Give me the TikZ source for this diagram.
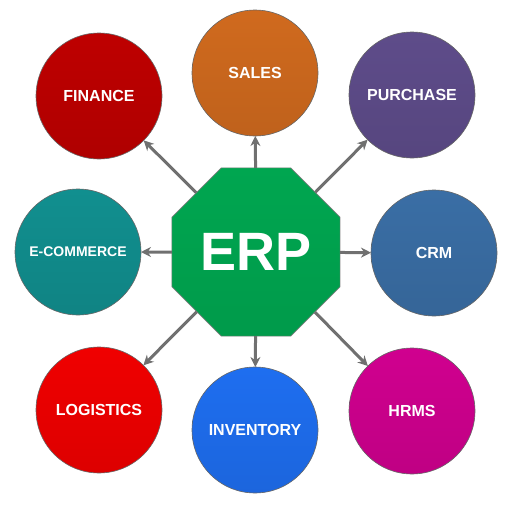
\documentclass[tikz,border=0pt]{standalone}
\usepackage{fontspec}
\setsansfont{Liberation Sans}
\usetikzlibrary{shapes.geometric, arrows.meta}
\definecolor{erpgreen}{RGB}{0,166,80}
\definecolor{finance}{RGB}{190,0,0}
\definecolor{sales}{RGB}{208,106,30}
\definecolor{purchase}{RGB}{94,76,138}
\definecolor{crm}{RGB}{58,110,165}
\definecolor{ecommerce}{RGB}{17,143,143}
\definecolor{logistics}{RGB}{240,0,0}
\definecolor{inventory}{RGB}{30,110,240}
\definecolor{hrms}{RGB}{208,0,143}
\definecolor{linkgray}{RGB}{112,112,112}
\tikzset{
    module/.style={circle, draw=black!60, line width=0.6pt, minimum size=126pt, inner sep=0pt, outer sep=0pt,
        top color=#1, bottom color=#1!92!black, text=white,
        font=\sffamily\bfseries\fontsize{16}{18}\selectfont},
    hub/.style={regular polygon, regular polygon sides=8, minimum size=182pt, inner sep=0pt, outer sep=0pt,
        draw=black!50, line width=0.6pt, top color=erpgreen, bottom color=erpgreen!93!black,
        text=white, font=\sffamily\bfseries\fontsize{54}{60}\selectfont},
    link/.style={draw=linkgray, line width=3pt, -{Stealth[length=10pt, width=10pt]}}
}

\begin{document}
\begin{tikzpicture}[x=1pt, y=-1pt]
    \useasboundingbox (0,0) rectangle (511,512);

    % Central hub
    \node[hub] (erp) at (256,252) {ERP};

    % Surrounding modules
    \node[module=finance] (finance) at (99,96) {FINANCE};
    \node[module=sales] (sales) at (255,73) {SALES};
    \node[module=purchase] (purchase) at (412,95) {PURCHASE};
    \node[module=ecommerce, font=\sffamily\bfseries\fontsize{14}{16}\selectfont] (ecommerce) at (78,252) {E-COMMERCE};
    \node[module=crm] (crm) at (434,253) {CRM};
    \node[module=logistics] (logistics) at (99,410) {LOGISTICS};
    \node[module=inventory] (inventory) at (255,430) {INVENTORY};
    \node[module=hrms] (hrms) at (412,411) {HRMS};

    % Connecting arrows
    \foreach \m in {finance,sales,purchase,ecommerce,crm,logistics,inventory,hrms} {
        \draw[link] (erp) -- (\m);
    }
\end{tikzpicture}
\end{document}
